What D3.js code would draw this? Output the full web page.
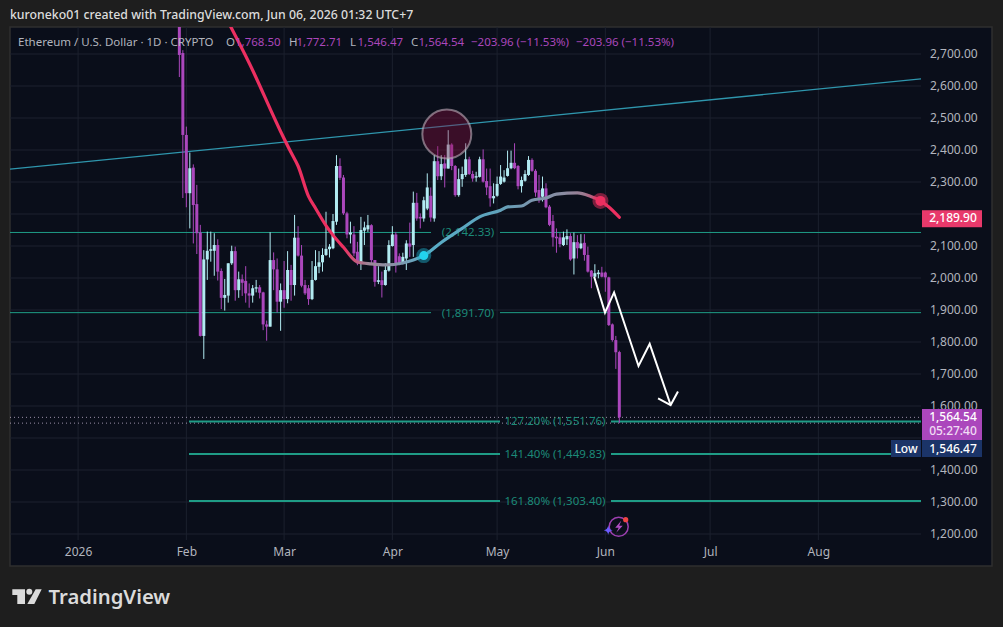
<!DOCTYPE html>
<html>
<head>
<meta charset="utf-8">
<title>ETHUSD</title>
<script src="https://cdn.jsdelivr.net/npm/d3@7/dist/d3.min.js"></script>
<style>
html, body { margin: 0; padding: 0; background: #1e1e1e; overflow: hidden; }
svg { display: block; }
text { font-family: "Noto Sans", Roboto, sans-serif; }
</style>
</head>
<body>
<svg id="chart" width="1003" height="627"></svg>
<script>
// daily candles, first one is Jan 30 (day -2, where day 0 is Feb 1)
const firstDay = -2;
const opens = [2800,2703,2447,2265,2345,2231,2142,1819,2058,2085,2085,2103,2022,1938,1945,2046,2084,1962,1996,1991,1952,1945,1967,1971,1955,1855,1848,2056,2027,1926,1962,1934,2025,1978,2126,2070,1978,1968,1934,1994,2035,2049,2072,2090,2093,2176,2350,2314,2202,2136,2136,2082,2046,2148,2152,2165,2056,1988,1993,1978,2023,2100,2136,2068,2046,2061,2108,2103,2235,2191,2186,2217,2257,2186,2365,2318,2358,2342,2417,2350,2259,2309,2322,2371,2325,2314,2316,2371,2303,2287,2249,2257,2294,2301,2319,2343,2360,2350,2287,2304,2322,2369,2335,2275,2254,2280,2223,2178,2129,2127,2103,2121,2131,2061,2112,2093,2110,2072,2023,2004,2012,2017,2017,2002,1855,1806,1768.5];
const highs = [2850,2712,2473,2392,2355,2291,2166,2087,2145,2145,2140,2121,2030,1997,2046,2101,2098,2020,2011,2037,1983,1978,1994,1978,1957,1867,2143,2080,2061,1983,2053,2084,2041,2197,2162,2103,1994,1978,2053,2087,2084,2093,2207,2106,2200,2384,2374,2322,2207,2176,2162,2113,2191,2176,2197,2168,2056,2037,2020,2046,2118,2162,2144,2077,2079,2118,2173,2270,2266,2202,2254,2327,2283,2384,2412,2384,2384,2462,2421,2353,2342,2348,2421,2379,2335,2332,2379,2402,2342,2342,2296,2317,2353,2337,2398,2398,2421,2353,2317,2337,2381,2374,2340,2322,2317,2296,2228,2197,2155,2140,2145,2152,2140,2142,2134,2137,2137,2098,2025,2043,2025,2035,2020,2004,1858,1819,1772.71];
const lows = [2628,2250,2221,2155,2108,2075,1817,1747,1994,2051,2007,1992,1903,1898,1923,2041,1929,1938,1944,1923,1907,1923,1955,1936,1837,1804,1848,1962,1892,1835,1907,1921,1929,1945,2067,1971,1947,1916,1931,1992,2015,2020,2069,2064,2090,2166,2306,2197,2124,2108,2068,2040,2025,2103,2144,2040,1973,1981,1939,1976,2020,2098,2017,2040,2043,2025,2066,2066,2179,2155,2176,2212,2176,2176,2306,2306,2283,2342,2337,2254,2254,2285,2316,2322,2301,2301,2314,2298,2259,2223,2233,2254,2291,2298,2317,2340,2340,2277,2267,2301,2319,2332,2254,2235,2239,2218,2162,2098,2079,2096,2100,2103,2054,2011,2061,2090,2054,2017,1968,2002,1999,2002,1957,1850,1801,1716,1546.47];
const closes = [2697,2447,2265,2343,2228,2140,1819,2058,2085,2090,2103,2020,1938,1947,2046,2084,1962,1996,1985,1952,1945,1968,1971,1954,1855,1848,2056,2027,1926,1962,1934,2025,1978,2126,2070,1976,1952,1934,1994,2037,2049,2072,2091,2098,2178,2350,2313,2202,2136,2142,2077,2046,2150,2158,2165,2056,1988,1993,1978,2025,2103,2136,2046,2046,2066,2108,2098,2235,2186,2186,2243,2283,2189,2365,2318,2356,2342,2417,2350,2259,2309,2325,2371,2325,2311,2318,2371,2301,2283,2249,2256,2294,2317,2314,2343,2360,2343,2287,2306,2325,2369,2335,2267,2249,2280,2221,2166,2127,2124,2106,2127,2131,2058,2112,2093,2108,2072,2020,2004,2015,2017,2004,2002,1853,1806,1768,1564.54];

// moving average, drawn red / grey / blue
const maDays = [12,18,27,30,32,35,37,40,42,45,49,53,57,62,65,68,73,79,84,90,92,96,99,103,106,112,116,118,121,124];
const maValues = [2800,2672,2458,2392,2350,2255,2218,2164,2134,2096,2050,2044,2041,2047,2056,2070,2111,2155,2191,2212,2222,2225,2243,2250,2262,2266,2254,2245,2222,2189.9];

const gridPrices = [2700,2600,2500,2400,2300,2200,2100,2000,1900,1800,1700,1600,1500,1400,1300,1200];
// 2,200 and 1,500 sit behind the price tags on the axis
const axisPrices = [2700,2600,2500,2400,2300,2100,2000,1900,1800,1700,1600,1400,1300,1200];
const monthDays = [-31,0,28,59,89,120,150,181];
const monthLabels = ['2026','Feb','Mar','Apr','May','Jun','Jul','Aug'];

// drawings
const trendDays = [-50.5,210.4];
const trendPrices = [2340,2622];
const fibFull = [2142.33,1891.70];
const fibLower = [1551.76,1449.83,1303.40];
const fibLowerRatio = ['127.20%','141.40%','161.80%'];
const arrowDays = [116.8,119.9,122.5,129.5,132.7,138.7];
const arrowPrices = [2004,1892,1955,1725,1794,1603];
const arrowHeadDays = [135.1,138.7,140.8];
const arrowHeadPrices = [1624,1603,1645];

const lastClose = 1564.54;
const lastLow = 1546.47;
const lastMa = 2189.90;
const legendValues = [['O','1,768.50',226],['H','1,772.71',289],['L','1,546.47',350],['C','1,564.54',411]];

const purple = '#ab47bc', blue = '#b2ebf2', red = '#ec2f60', tagRed = '#e8396b', teal = '#1f9c86', tealText = '#1c8a78';
const axisGrey = '#b2b5be', gridColor = '#1c212e';

const svg = d3.select('#chart');
const paneLeft = 10, paneRight = 921, paneTop = 27, paneBottom = 540, frameBottom = 566, frameRight = 992;

const x = d3.scaleLinear().domain([-50.5,210.4]).range([paneLeft,paneRight]);
const y = d3.scaleLinear().domain([2700,1200]).range([54,534]);

svg.append('rect').attr('x',paneLeft).attr('y',paneTop).attr('width',frameRight-paneLeft).attr('height',frameBottom-paneTop)
	.attr('fill','#0a0e1a').attr('stroke','#2f2f2f').attr('stroke-width',1.5);

const defs = svg.append('defs');
defs.append('clipPath').attr('id','pane').append('rect')
	.attr('x',paneLeft).attr('y',paneTop).attr('width',paneRight-paneLeft).attr('height',paneBottom-paneTop);

const grad = defs.append('linearGradient').attr('id','maGrad')
	.attr('gradientUnits','userSpaceOnUse')
	.attr('x1',x(12)).attr('x2',x(124)).attr('y1',0).attr('y2',0);
[[45,red],[52,'#9c8496'],[60,'#8793a8'],[68,'#58aec8'],[88,'#5ea3bc'],[98,'#7896ae'],[108,'#8a8ca2'],[114,'#9c7a90'],[119,red]].forEach(function(s) {
	grad.append('stop').attr('offset',(s[0]-12)/(124-12)).attr('stop-color',s[1]);
});

// grid
const grid = svg.append('g');
grid.selectAll('.gh').data(gridPrices).join('line')
	.attr('x1',paneLeft).attr('x2',paneRight).attr('y1',d=>y(d)).attr('y2',d=>y(d))
	.attr('stroke',gridColor);
grid.selectAll('.gv').data(monthDays).join('line')
	.attr('x1',d=>x(d)).attr('x2',d=>x(d)).attr('y1',paneTop).attr('y2',paneBottom)
	.attr('stroke',gridColor);

const pane = svg.append('g').attr('clip-path','url(#pane)');

// last price / low dotted lines
[lastClose,lastLow].forEach(function(v) {
	pane.append('line').attr('x1',paneLeft).attr('x2',paneRight).attr('y1',y(v)).attr('y2',y(v))
		.attr('stroke','#d9c7e6').attr('stroke-opacity',0.7).attr('stroke-dasharray','1 3');
});

// fib levels
fibFull.forEach(function(v) {
	pane.append('line').attr('x1',paneLeft).attr('x2',431).attr('y1',y(v)).attr('y2',y(v)).attr('stroke',teal);
	pane.append('line').attr('x1',500).attr('x2',paneRight).attr('y1',y(v)).attr('y2',y(v)).attr('stroke',teal);
	pane.append('text').attr('x',468).attr('y',y(v)+4).attr('text-anchor','middle')
		.attr('font-size',11.5).attr('fill',tealText).text('(' + d3.format(',.2f')(v) + ')');
});
fibLower.forEach(function(v,i) {
	pane.append('line').attr('x1',189).attr('x2',500).attr('y1',y(v)).attr('y2',y(v)).attr('stroke',teal).attr('stroke-width',2);
	pane.append('line').attr('x1',611).attr('x2',paneRight).attr('y1',y(v)).attr('y2',y(v)).attr('stroke',teal).attr('stroke-width',2);
	pane.append('text').attr('x',555).attr('y',y(v)+4).attr('text-anchor','middle')
		.attr('font-size',11.5).attr('fill',tealText)
		.text(fibLowerRatio[i] + ' (' + d3.format(',.2f')(v) + ')');
});

// trend line
pane.append('line')
	.attr('x1',x(trendDays[0])).attr('y1',y(trendPrices[0]))
	.attr('x2',x(trendDays[1])).attr('y2',y(trendPrices[1]))
	.attr('stroke','#2f96ad').attr('stroke-width',1.3);

// candles
const candles = opens.map(function(o,i) {
	return {day: firstDay+i, o: o, h: highs[i], l: lows[i], c: closes[i]};
});
const candle = pane.selectAll('.candle').data(candles).join('g').attr('class','candle');
candle.append('line')
	.attr('x1',d=>x(d.day)).attr('x2',d=>x(d.day))
	.attr('y1',d=>y(d.h)).attr('y2',d=>y(d.l))
	.attr('stroke',d=>d.c>=d.o ? blue : purple);
candle.append('rect')
	.attr('x',d=>x(d.day)-1.5).attr('width',3)
	.attr('y',d=>y(Math.max(d.o,d.c)))
	.attr('height',d=>Math.max(1,Math.abs(y(d.o)-y(d.c))))
	.attr('fill',d=>d.c>=d.o ? blue : purple);

// moving average
const maLine = d3.line().x((d,i)=>x(maDays[i])).y(d=>y(d)).curve(d3.curveMonotoneX);
pane.append('path').attr('d',maLine(maValues)).attr('fill','none')
	.attr('stroke','url(#maGrad)').attr('stroke-width',3.2).attr('stroke-linecap','round');

// cross markers on the average
pane.append('circle').attr('cx',x(68)).attr('cy',y(2070)).attr('r',7.5).attr('fill','#1fb4cf').attr('fill-opacity',0.45);
pane.append('circle').attr('cx',x(68)).attr('cy',y(2070)).attr('r',4.5).attr('fill','#22d3ee');
pane.append('circle').attr('cx',x(118.6)).attr('cy',y(2241)).attr('r',8).attr('fill',red).attr('fill-opacity',0.5);
pane.append('circle').attr('cx',x(118.6)).attr('cy',y(2241)).attr('r',5).attr('fill',red);

// highlighted top
pane.append('circle').attr('cx',x(74.6)).attr('cy',y(2450)).attr('r',24.5)
	.attr('fill','#8a1040').attr('fill-opacity',0.38)
	.attr('stroke','#b9aab6').attr('stroke-opacity',0.62).attr('stroke-width',2);

// hand drawn arrow
const arrowLine = d3.line().x(d=>x(d[0])).y(d=>y(d[1]));
pane.append('path').attr('d',arrowLine(d3.zip(arrowDays,arrowPrices)))
	.attr('fill','none').attr('stroke','#fff').attr('stroke-width',2);
pane.append('path').attr('d',arrowLine(d3.zip(arrowHeadDays,arrowHeadPrices)))
	.attr('fill','none').attr('stroke','#fff').attr('stroke-width',2);

// axes
const yAxis = svg.append('g').attr('transform','translate(' + (paneRight+9) + ',0)')
	.call(d3.axisRight(y).tickValues(axisPrices).tickFormat(d3.format(',.2f')).tickSize(0).tickPadding(0));
const xAxis = svg.append('g').attr('transform','translate(0,' + 544 + ')')
	.call(d3.axisBottom(x).tickValues(monthDays).tickFormat((d,i)=>monthLabels[i]).tickSize(0).tickPadding(3));
[yAxis,xAxis].forEach(function(a) {
	a.select('.domain').remove();
	a.selectAll('text').attr('fill',axisGrey).attr('font-size',12).attr('font-family','"Noto Sans", Roboto, sans-serif');
});

// price tags
function tag(x0,w,y0,h,color) {
	svg.append('rect').attr('x',x0).attr('y',y0).attr('width',w).attr('height',h).attr('fill',color);
}
function tagText(xc,yc,s,color) {
	svg.append('text').attr('x',xc).attr('y',yc).attr('text-anchor','middle')
		.attr('font-size',12).attr('font-weight',500).attr('fill',color).text(s);
}
const fmt = d3.format(',.2f');
tag(922,60,y(lastMa)-7,17,tagRed);
tagText(953,y(lastMa)+5,fmt(lastMa),'#fff');
tag(922,60,409,31,purple);
tagText(953,421,fmt(lastClose),'#fff');
tagText(953,435,'05:27:40','#f0dcf4');
tag(922,60,440,17,'#1b3468');
tagText(953,453,fmt(lastLow),'#fff');
tag(891,30,440,17,'#1b3468');
tagText(906,453,'Low','#fff');

// legend row
const legendY = 46;
svg.append('text').attr('x',18).attr('y',legendY).attr('font-size',11.5).attr('fill',axisGrey)
	.text('Ethereum / U.S. Dollar · 1D · CRYPTO');
legendValues.forEach(function(v) {
	svg.append('text').attr('x',v[2]).attr('y',legendY).attr('font-size',11.5).attr('fill',axisGrey).text(v[0]);
	svg.append('text').attr('x',v[2]+(v[0]=='O' ? 9 : 7.5)).attr('y',legendY).attr('font-size',11.5).attr('fill',purple).text(v[1]);
});
svg.append('text').attr('x',471).attr('y',legendY).attr('font-size',11.5).attr('fill',purple).text('−203.96 (−11.53%)');
svg.append('text').attr('x',576).attr('y',legendY).attr('font-size',11.5).attr('fill',purple).text('−203.96 (−11.53%)');

// header
svg.append('text').attr('x',10).attr('y',19).attr('font-size',12.3).attr('font-weight',500).attr('fill','#dcdcdc')
	.text('kuroneko01 created with TradingView.com, Jun 06, 2026 01:32 UTC+7');

// flash icon under the last candle
const icon = svg.append('g').attr('transform','translate(' + 618.7 + ',' + 526.7 + ')');
icon.append('circle').attr('r',9.5).attr('fill','none').attr('stroke','#9c3fb0').attr('stroke-width',1.5);
icon.append('path').attr('d','M2.5 -6 L-3.5 1 L0 1 L-2.5 6 L4 -1 L0.5 -1 Z').attr('fill','#b14ec4');
icon.append('circle').attr('cx',7).attr('cy',-7).attr('r',2.6).attr('fill','#ef4444');
icon.append('path').attr('d','M-10.5 -1.5 Q-10 3 -6 3.5 Q-10 4 -10.5 8 Q-11 4 -15 3.5 Q-11 3 -10.5 -1.5 Z').attr('fill','#6d5cff');

// logo
const logo = svg.append('g').attr('fill','#dbdbdb');
logo.append('path').attr('d','M12.3 589.3 H25 V604 H17.3 V595 H12.3 Z');
logo.append('circle').attr('cx',29.3).attr('cy',591.8).attr('r',3);
logo.append('path').attr('d','M35.7 589.3 H41.7 L34.3 604 H27.3 Z');
logo.append('text').attr('x',48.5).attr('y',604).attr('font-family','Inter, Roboto, sans-serif')
	.attr('font-size',20.3).attr('font-weight',600).attr('fill','#dbdbdb').text('TradingView');
</script>
</body>
</html>
